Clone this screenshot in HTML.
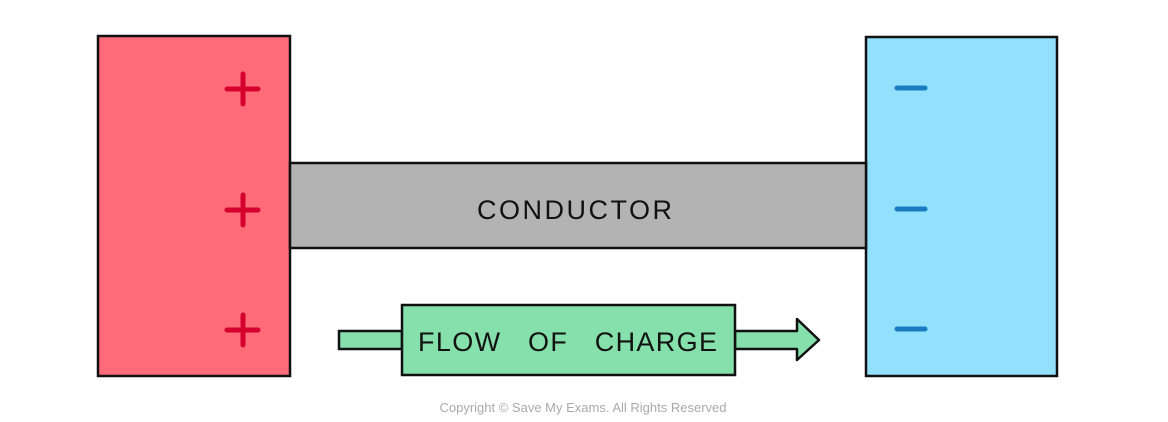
<!DOCTYPE html>
<html><head><style>body{margin:0;background:#fff}</style></head><body>
<svg width="1168" height="422" xmlns="http://www.w3.org/2000/svg" style="display:block">
<rect x="98" y="36" width="192" height="340" fill="#ff6b78" stroke="#111" stroke-width="2.5"/>
<rect x="866" y="37" width="191" height="339" fill="#92e0fc" stroke="#111" stroke-width="2.5"/>
<rect x="290" y="163" width="576" height="85" fill="#b3b3b3" stroke="#111" stroke-width="2.5"/>
<text x="477" y="219" textLength="195" lengthAdjust="spacing" font-family="Liberation Sans, sans-serif" font-size="27" fill="#111">CONDUCTOR</text>
<g stroke="#d6002e" stroke-width="5" stroke-linecap="round">
<path d="M227 89H258M243 74V104"/><path d="M227 210H258M243 195V225"/><path d="M227 330H258M243 315V345"/>
</g>
<g stroke="#1a7cc0" stroke-width="5" stroke-linecap="round">
<path d="M897 88H925"/><path d="M897 209H925"/><path d="M897 329H925"/>
</g>
<path d="M339 331H402V349H339Z" fill="#85e0ac" stroke="#111" stroke-width="2.5"/>
<path d="M735 331H797V319L819 340L797 360V349H735Z" fill="#85e0ac" stroke="#111" stroke-width="2.5" stroke-linejoin="round"/>
<rect x="402" y="305" width="333" height="70" fill="#85e0ac" stroke="#111" stroke-width="2.5"/>
<text x="418" y="351" textLength="299" lengthAdjust="spacing" font-family="Liberation Sans, sans-serif" font-size="27" fill="#111" xml:space="preserve">FLOW   OF   CHARGE</text>
<text x="583" y="412" font-family="Liberation Sans, sans-serif" font-size="13" text-anchor="middle" fill="#aaa">Copyright © Save My Exams. All Rights Reserved</text>
</svg>
</body></html>
